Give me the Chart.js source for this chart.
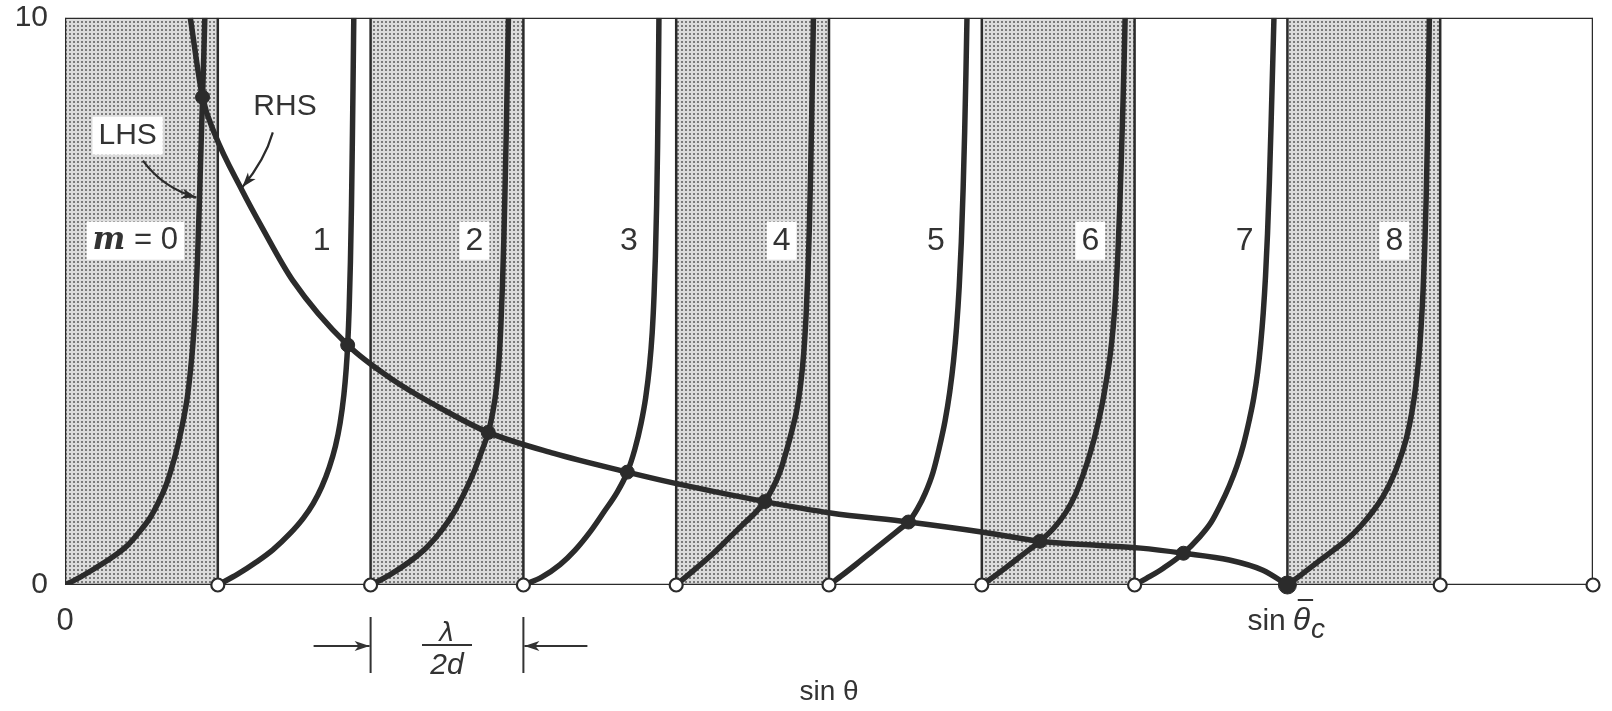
<!DOCTYPE html>
<html>
<head>
<meta charset="utf-8">
<title>Slab waveguide modes</title>
<script src="https://cdn.jsdelivr.net/npm/chart.js@4.4.1/dist/chart.umd.min.js"></script>
<style>
  html, body { margin: 0; padding: 0; background: #fff; }
  #wrap { width: 1612px; height: 711px; }
</style>
</head>
<body>
<div id="wrap"><canvas id="modeChart" width="1612" height="711"></canvas></div>
<script>
// x in units of lambda/2d, y = value of both sides of the mode equation
const stripEdges = [0, 1, 2, 3, 4, 5, 6, 7, 8, 9, 10];
const shadedStrips = [[0, 1], [2, 3], [4, 5], [6, 7], [8, 9]];
const modeLabels = ['m = 0', '1', '2', '3', '4', '5', '6', '7', '8'];
const yTicks = [0, 10];
const xTicks = [0];

// LHS branches, one per mode
const lhsM0 = [[0,0],[0.1,0.14],[0.2,0.3],[0.3,0.47],[0.41,0.7],[0.5,0.98],[0.56,1.2],[0.61,1.45],[0.66,1.75],[0.70,2.08],[0.74,2.48],[0.77,2.85],[0.80,3.3],[0.82,3.75],[0.84,4.35],[0.855,5.0],[0.868,5.8],[0.88,6.8],[0.89,7.7],[0.90,8.6],[0.909,9.4],[0.915,10]];
const lhsM1 = [[1,0],[1.13,0.19],[1.25,0.4],[1.36,0.62],[1.47,0.9],[1.56,1.18],[1.625,1.44],[1.68,1.73],[1.73,2.08],[1.77,2.45],[1.80,2.85],[1.825,3.35],[1.84,3.8],[1.85,4.23],[1.86,4.9],[1.868,5.7],[1.875,6.7],[1.88,7.7],[1.885,8.8],[1.89,10]];
const lhsM2 = [[2,0],[2.12,0.17],[2.25,0.4],[2.37,0.67],[2.47,0.98],[2.55,1.3],[2.62,1.66],[2.68,2.02],[2.73,2.38],[2.77,2.69],[2.80,3.05],[2.825,3.5],[2.84,3.95],[2.853,4.6],[2.863,5.3],[2.872,6.1],[2.88,7.0],[2.888,8.0],[2.895,9.0],[2.902,10]];
const lhsM3 = [[3,0],[3.12,0.14],[3.24,0.36],[3.34,0.62],[3.44,0.95],[3.53,1.3],[3.61,1.62],[3.68,1.99],[3.73,2.4],[3.77,2.85],[3.80,3.3],[3.825,3.85],[3.843,4.45],[3.855,5.1],[3.864,5.8],[3.872,6.7],[3.878,7.7],[3.883,8.8],[3.887,10]];
const lhsM4 = [[4,0],[4.12,0.27],[4.24,0.55],[4.35,0.84],[4.45,1.1],[4.52,1.28],[4.58,1.47],[4.63,1.7],[4.68,2.0],[4.72,2.35],[4.76,2.75],[4.79,3.1],[4.815,3.55],[4.835,4.1],[4.85,4.75],[4.862,5.5],[4.872,6.35],[4.88,7.3],[4.887,8.3],[4.893,9.2],[4.898,10]];
const lhsM5 = [[5,0],[5.09,0.18],[5.18,0.37],[5.29,0.61],[5.40,0.85],[5.47,1.0],[5.52,1.11],[5.58,1.35],[5.63,1.62],[5.68,1.98],[5.72,2.4],[5.76,2.9],[5.79,3.4],[5.815,3.95],[5.835,4.55],[5.852,5.25],[5.866,6.05],[5.878,7.0],[5.888,8.0],[5.896,9.0],[5.903,10]];
const lhsM6 = [[6,0],[6.08,0.15],[6.16,0.31],[6.27,0.54],[6.38,0.77],[6.47,1.0],[6.55,1.28],[6.61,1.58],[6.66,1.92],[6.71,2.33],[6.75,2.73],[6.785,3.15],[6.815,3.6],[6.84,4.05],[6.86,4.55],[6.877,5.15],[6.89,5.8],[6.902,6.6],[6.913,7.5],[6.924,8.5],[6.932,9.3],[6.938,10]];
const lhsM7 = [[7,0],[7.1,0.15],[7.19,0.3],[7.32,0.56],[7.42,0.83],[7.50,1.1],[7.56,1.4],[7.62,1.75],[7.67,2.1],[7.71,2.45],[7.75,2.9],[7.78,3.3],[7.805,3.75],[7.825,4.25],[7.842,4.8],[7.857,5.45],[7.87,6.2],[7.882,7.1],[7.893,8.1],[7.903,9.1],[7.912,10]];
const lhsM8 = [[8,0],[8.1,0.2],[8.21,0.43],[8.30,0.61],[8.39,0.8],[8.48,1.04],[8.56,1.3],[8.63,1.58],[8.69,1.9],[8.74,2.25],[8.78,2.6],[8.815,3.05],[8.84,3.5],[8.86,4.0],[8.875,4.55],[8.888,5.2],[8.899,5.95],[8.908,6.8],[8.916,7.8],[8.923,8.9],[8.929,10]];
const lhsCurves = [lhsM0, lhsM1, lhsM2, lhsM3, lhsM4, lhsM5, lhsM6, lhsM7, lhsM8];

// RHS curve
const rhsCurve = [[0.82,10],[0.90,8.6],[0.98,7.95],[1.16,6.95],[1.29,6.3],[1.49,5.37],[1.85,4.23],[2.15,3.61],[2.47,3.10],[2.77,2.69],[3.20,2.32],[3.68,1.99],[3.98,1.80],[4.58,1.47],[5.01,1.27],[5.52,1.11],[6.01,0.93],[6.38,0.77],[6.75,0.70],[7.04,0.65],[7.32,0.56],[7.62,0.44],[7.84,0.26],[8.0,0]];

// solutions and cutoffs
const crossings = [[0.90,8.6],[1.85,4.23],[2.77,2.69],[3.68,1.99],[4.58,1.47],[5.52,1.11],[6.38,0.77],[7.32,0.56]];
const cutoffs = [1, 2, 3, 4, 5, 6, 7, 9, 10];
const criticalAngle = 8;

// label placement (layout only)
const labelSpots = [0.46, 1.68, 2.68, 3.69, 4.69, 5.70, 6.71, 7.72, 8.70];
const labelLevel = 6.07;

const ink = '#2b2b2b';
const textInk = '#333';
const sans = '"Liberation Sans", Arial, sans-serif';

const canvas = document.getElementById('modeChart');
const stipple = (() => {
  const c = document.createElement('canvas');
  c.width = 4; c.height = 4;
  const g = c.getContext('2d');
  g.fillStyle = '#dcdcdc';
  g.fillRect(0, 0, 4, 4);
  g.fillStyle = '#7c7c7c';
  g.fillRect(1, 1, 2, 2);
  return canvas.getContext('2d').createPattern(c, 'repeat');
})();

const pts = arr => arr.map(([x, y]) => ({ x, y }));

const datasets = [];
shadedStrips.forEach(([a, b]) => datasets.push({
  data: [{ x: a, y: 10 }, { x: b, y: 10 }],
  fill: 'origin', backgroundColor: stipple, borderWidth: 0, pointRadius: 0, order: 20
}));
stripEdges.forEach(e => datasets.push({
  data: [{ x: e, y: 0 }, { x: e, y: 10 }],
  borderColor: ink, borderWidth: 2.5, pointRadius: 0, fill: false, order: 15
}));
// top and bottom of the frame
[0, 10].forEach(v => datasets.push({
  data: [{ x: stripEdges[0], y: v }, { x: stripEdges[stripEdges.length - 1], y: v }],
  borderColor: ink, borderWidth: 2.5, pointRadius: 0, fill: false, order: 15
}));
lhsCurves.forEach(c => datasets.push({
  data: pts(c), borderColor: ink, borderWidth: 5.5, pointRadius: 0, fill: false,
  cubicInterpolationMode: 'monotone', order: 6
}));
datasets.push({
  data: pts(rhsCurve), borderColor: ink, borderWidth: 5.5, pointRadius: 0, fill: false,
  cubicInterpolationMode: 'monotone', order: 5
});
datasets.push({
  data: pts(crossings), showLine: false, pointRadius: 7, pointBackgroundColor: ink,
  pointBorderColor: ink, pointBorderWidth: 1, clip: false, order: 2
});
datasets.push({
  data: cutoffs.map(x => ({ x, y: 0 })), showLine: false, pointRadius: 6.5,
  pointBackgroundColor: '#fff', pointBorderColor: ink, pointBorderWidth: 2.2, clip: false, order: 1
});
datasets.push({
  data: [{ x: criticalAngle, y: 0 }], showLine: false, pointRadius: 9,
  pointBackgroundColor: ink, pointBorderColor: ink, clip: false, order: 1
});

function arrow(ctx, x0, y0, cx, cy, x1, y1) {
  ctx.beginPath();
  ctx.moveTo(x0, y0);
  ctx.quadraticCurveTo(cx, cy, x1, y1);
  ctx.stroke();
  const a = Math.atan2(y1 - cy, x1 - cx);
  ctx.beginPath();
  ctx.moveTo(x1, y1);
  ctx.lineTo(x1 - 15 * Math.cos(a) + 5 * Math.sin(a), y1 - 15 * Math.sin(a) - 5 * Math.cos(a));
  ctx.lineTo(x1 - 11 * Math.cos(a), y1 - 11 * Math.sin(a));
  ctx.lineTo(x1 - 15 * Math.cos(a) - 5 * Math.sin(a), y1 - 15 * Math.sin(a) + 5 * Math.cos(a));
  ctx.closePath();
  ctx.fill();
}

const annotate = {
  id: 'annotate',
  afterDatasetsDraw(chart) {
    const { ctx, chartArea } = chart;
    const x = chart.scales.x, y = chart.scales.y;
    const bottom = chartArea.bottom;
    ctx.save();
    ctx.fillStyle = textInk;
    ctx.strokeStyle = textInk;
    ctx.textBaseline = 'middle';

    // mode numbers
    modeLabels.forEach((t, i) => {
      const cx = x.getPixelForValue(labelSpots[i]);
      const cy = y.getPixelForValue(labelLevel);
      if (i === 0) {
        const mFont = 'italic bold 31px "DejaVu Serif", serif';
        const rFont = '31px ' + sans;
        ctx.font = mFont; const wm = ctx.measureText('m').width;
        ctx.font = rFont; const wr = ctx.measureText(' = 0').width;
        const w = wm + wr;
        ctx.fillStyle = '#fff';
        ctx.fillRect(cx - w / 2 - 6, cy - 19, w + 12, 38);
        ctx.fillStyle = textInk;
        ctx.textAlign = 'left';
        ctx.font = mFont; ctx.fillText('m', cx - w / 2, cy);
        ctx.font = rFont; ctx.fillText(' = 0', cx - w / 2 + wm, cy);
        return;
      }
      ctx.font = '32px ' + sans;
      ctx.textAlign = 'center';
      if (i % 2 === 0) {
        const w = ctx.measureText(t).width;
        ctx.fillStyle = '#fff';
        ctx.fillRect(cx - w / 2 - 6, cy - 19, w + 12, 38);
        ctx.fillStyle = textInk;
      }
      ctx.fillText(t, cx, cy);
    });

    // LHS / RHS tags
    ctx.font = '30px ' + sans;
    ctx.textAlign = 'center';
    const lx = x.getPixelForValue(0.41), ly = y.getPixelForValue(7.92);
    const lw = ctx.measureText('LHS').width;
    ctx.fillStyle = '#fff';
    ctx.fillRect(lx - lw / 2 - 6, ly - 19, lw + 12, 38);
    ctx.fillStyle = textInk;
    ctx.fillText('LHS', lx, ly);
    ctx.fillText('RHS', x.getPixelForValue(1.44), y.getPixelForValue(8.43));
    ctx.lineWidth = 2.2;
    ctx.fillStyle = ink; ctx.strokeStyle = ink;
    arrow(ctx, x.getPixelForValue(0.51), y.getPixelForValue(7.48),
      x.getPixelForValue(0.64), y.getPixelForValue(7.0),
      x.getPixelForValue(0.86), y.getPixelForValue(6.83));
    arrow(ctx, x.getPixelForValue(1.36), y.getPixelForValue(7.98),
      x.getPixelForValue(1.31), y.getPixelForValue(7.5),
      x.getPixelForValue(1.16), y.getPixelForValue(7.01));

    // lambda / 2d spacing marker
    const x2 = x.getPixelForValue(2), x3 = x.getPixelForValue(3);
    ctx.lineWidth = 2;
    ctx.strokeStyle = textInk; ctx.fillStyle = textInk;
    ctx.beginPath();
    ctx.moveTo(x2, bottom + 32); ctx.lineTo(x2, bottom + 88);
    ctx.moveTo(x3, bottom + 32); ctx.lineTo(x3, bottom + 88);
    ctx.stroke();
    arrow(ctx, x2 - 57, bottom + 61, x2 - 30, bottom + 61, x2 - 1, bottom + 61);
    arrow(ctx, x3 + 64, bottom + 61, x3 + 30, bottom + 61, x3 + 1, bottom + 61);
    const xm = (x2 + x3) / 2;
    ctx.textAlign = 'center';
    ctx.textBaseline = 'alphabetic';
    ctx.font = 'italic 26px "DejaVu Sans", sans-serif';
    ctx.fillText('λ', xm, bottom + 56);
    ctx.beginPath();
    ctx.moveTo(xm - 25, bottom + 60); ctx.lineTo(xm + 25, bottom + 60);
    ctx.stroke();
    ctx.font = 'italic 30px ' + sans;
    ctx.fillText('2d', xm, bottom + 89);

    // sin theta_c marker
    const x8 = x.getPixelForValue(criticalAngle);
    let sx = x8 - 40;
    ctx.textAlign = 'left';
    ctx.font = '30px ' + sans;
    ctx.fillText('sin', sx, bottom + 45);
    sx += ctx.measureText('sin').width + 7;
    ctx.font = 'italic 32px ' + sans;
    const tw = ctx.measureText('θ').width;
    ctx.fillText('θ', sx, bottom + 45);
    ctx.beginPath();
    ctx.moveTo(sx + 5, bottom + 15); ctx.lineTo(sx + tw + 3, bottom + 15);
    ctx.stroke();
    ctx.font = 'italic 28px ' + sans;
    ctx.fillText('c', sx + tw + 1, bottom + 53);
    ctx.restore();
  }
};

new Chart(canvas, {
  type: 'line',
  data: { datasets },
  options: {
    responsive: false,
    animation: false,
    devicePixelRatio: 1,
    layout: { padding: { left: 0, right: 19, top: 0, bottom: 0 } },
    plugins: { legend: { display: false }, tooltip: { enabled: false } },
    scales: {
      x: {
        type: 'linear', min: 0, max: 10,
        grid: { display: false, drawTicks: false },
        border: { display: false },
        afterBuildTicks: s => { s.ticks = xTicks.map(v => ({ value: v })); },
        ticks: { color: textInk, padding: 18, maxRotation: 0, font: { family: sans, size: 31 } },
        title: { display: true, text: 'sin θ', color: textInk, padding: { top: 0, bottom: 2 }, font: { family: sans, size: 28 } },
        afterFit: s => { s.height = 126; }
      },
      y: {
        type: 'linear', min: 0, max: 10,
        grid: { display: false, drawTicks: false },
        border: { display: false },
        afterBuildTicks: s => { s.ticks = yTicks.map(v => ({ value: v })); },
        // tiny lineHeight keeps the top tick label from pushing the plot down
        ticks: { color: textInk, padding: 17, font: { family: sans, size: 30, lineHeight: 0.05 } },
        afterFit: s => { s.width = 65; }
      }
    }
  },
  plugins: [annotate]
});
</script>
</body>
</html>
